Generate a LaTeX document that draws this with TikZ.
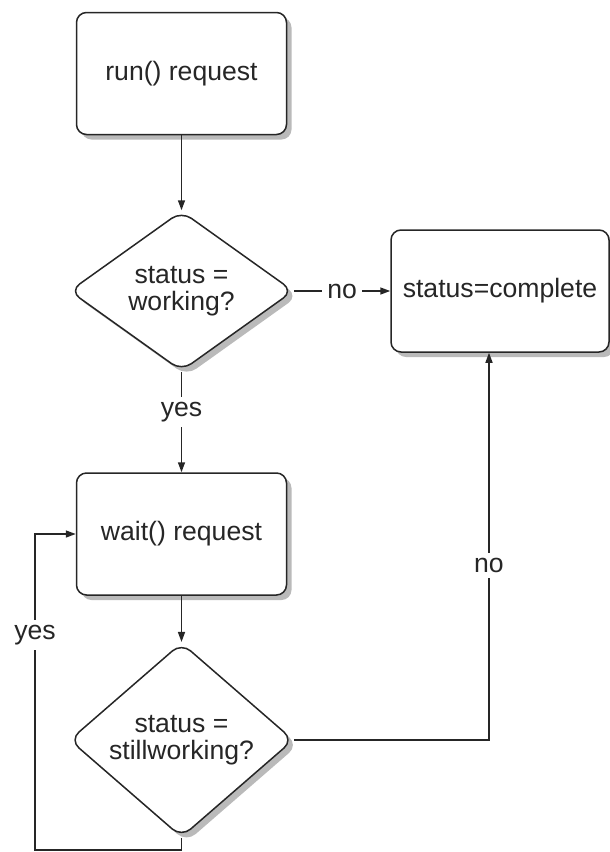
\documentclass[tikz,border=0pt]{standalone}
\usepackage{fontspec}
\setmainfont{Liberation Sans}
\usetikzlibrary{shapes.geometric,shadows,arrows.meta}

\tikzset{
    every node/.style={font=\fontsize{13.3}{13.5}\selectfont, text=black!85},
    stepbox/.style={rectangle, rounded corners=5pt, draw=black!85, fill=white,
        minimum width=105pt, minimum height=61pt, align=center,
        drop shadow={shadow xshift=2.5pt, shadow yshift=-2.5pt, fill=black!45, opacity=0.6}},
    decision/.style={diamond, rounded corners=6pt, draw=black!85, fill=white,
        minimum width=112pt, minimum height=80pt, inner sep=0pt, align=center,
        drop shadow={shadow xshift=2.5pt, shadow yshift=-2.5pt, fill=black!45, opacity=0.6}},
    flowline/.style={draw=black!85, -{Triangle[length=5pt,width=3.5pt]}},
    answer/.style={fill=white, inner sep=2.5pt}
}

\begin{document}
\begin{tikzpicture}[x=0.5pt, y=-0.5pt, line width=0.75pt]
    \useasboundingbox (0, 0) rectangle (610, 852);

    % boxes and decisions
    \node[stepbox] (run) at (181.5, 73.5) {run() request};
    \node[decision] (working) at (181.5, 291) {status =\\working?};
    \node[stepbox, minimum width=109pt] (complete) at (500, 291) {status=complete};
    \node[stepbox] (wait) at (181.5, 534) {wait() request};
    \node[decision] (still) at (181.5, 740) {status =\\stillworking?};
    \coordinate (loopcorner) at (35, 850);

    % connectors
    \draw[flowline] (run) -- (working);
    \draw[flowline] (working) -- (complete) node[answer, midway] {no};
    \draw[flowline] (working) -- (wait) node[answer, pos=0.4] {yes};
    \draw[flowline] (wait) -- (still);
    \draw[flowline] (still.south) -- (still.south |- loopcorner) -- (loopcorner)
        |- (wait.west) node[answer, pos=0.34] {yes};
    \draw[flowline] (still.east) -| ([xshift=-5.5pt]complete.south)
        node[answer, pos=0.725] {no};
\end{tikzpicture}
\end{document}
